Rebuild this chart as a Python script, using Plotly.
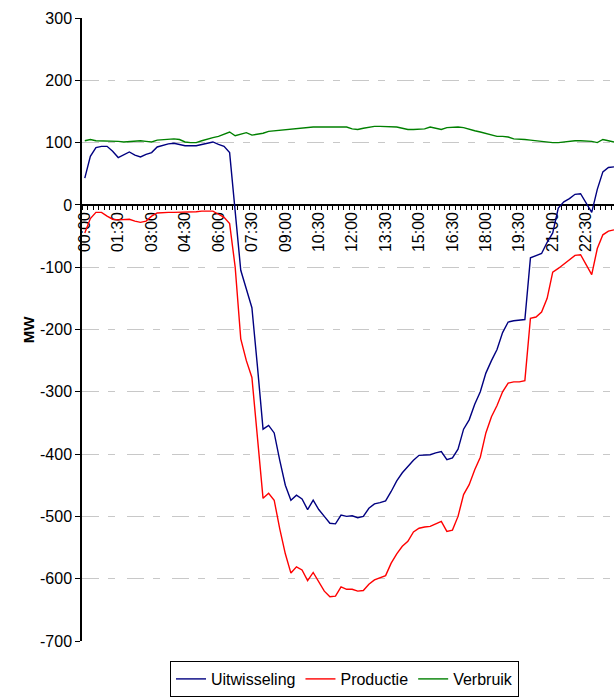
import plotly.graph_objects as go

# quarter-hour categories 00:00 .. 23:45
times = [f"{h:02d}:{m:02d}" for h in range(24) for m in (0, 15, 30, 45)]

uitwisseling = [
    43, 78, 92, 94, 94, 86, 76, 80, 85, 80, 77, 81, 84, 93, 96, 98,
    99, 97, 95, 95, 95, 97, 99, 101, 97, 94, 84, -5, -105, -135, -165, -260,
    -360, -354, -366, -410, -450, -474, -466, -472, -489, -474, -489, -500, -511, -512, -498, -500,
    -499, -502, -500, -487, -480, -478, -475, -460, -443, -430, -420, -410, -402, -401, -401, -398,
    -396, -409, -406, -392, -360, -345, -320, -300, -270, -250, -232, -205, -188, -186, -185, -184,
    -85, -82, -78, -60, -45, -5, 5, 10, 17, 18, 3, -12, 25, 53, 60, 61,
]
productie = [
    -45, -22, -12, -12, -18, -23, -24, -23, -23, -26, -28, -26, -18, -13, -12, -12,
    -12, -12, -12, -11, -11, -10, -10, -10, -15, -20, -30, -100, -215, -250, -277, -380,
    -471, -463, -474, -520, -560, -591, -581, -586, -603, -590, -606, -620, -629, -628, -613, -617,
    -617, -620, -619, -609, -602, -598, -595, -575, -560, -548, -540, -525, -519, -517, -516, -512,
    -508, -524, -522, -500, -465, -449, -425, -405, -366, -340, -322, -300, -286, -284, -284, -282,
    -182, -180, -172, -150, -108, -102, -95, -88, -81, -80, -95, -112, -70, -48, -42, -40,
]
verbruik = [
    103, 105, 103, 103, 103, 103, 102, 101, 102, 103, 103, 102, 101, 104, 105, 105,
    106, 105, 101, 100, 100, 103, 106, 108, 110, 113, 117, 111, 114, 116, 112, 113,
    115, 118, 119, 120, 121, 122, 122, 124, 125, 125, 125, 125, 125, 125, 125, 125,
    122, 121, 123, 125, 126, 126, 126, 126, 125, 123, 121, 121, 121, 122, 125, 123,
    121, 124, 125, 125, 124, 121, 119, 117, 115, 112, 110, 110, 109, 106, 106, 105,
    104, 103, 101, 100, 100, 100, 101, 103, 103, 103, 103, 102, 100, 105, 103, 101,
]

series = [
    ("Uitwisseling", uitwisseling, "#000080"),
    ("Productie", productie, "#FF0000"),
    ("Verbruik", verbruik, "#008000"),
]

y_ticks = [300, 200, 100, 0, -100, -200, -300, -400, -500, -600, -700]
x_idx = list(range(len(times)))

FONT = "Liberation Sans, Arial, sans-serif"

fig = go.Figure()
for name, vals, color in series:
    fig.add_trace(go.Scatter(
        x=x_idx, y=vals, name=name, mode="lines",
        line=dict(color=color, width=1.4),
        hovertemplate="%{text}: %{y} MW<extra>" + name + "</extra>",
        text=times,
    ))

fig.update_layout(
    width=614, height=698,
    margin=dict(l=82, r=0, t=18, b=57),
    paper_bgcolor="white", plot_bgcolor="white",
    font=dict(family=FONT, size=16, color="black"),
    showlegend=True,
    # legend kept inside the bottom margin so it does not shrink the plot
    legend=dict(
        orientation="h", x=88 / 532, xanchor="left", y=-56 / 623, yanchor="bottom",
        bordercolor="black", borderwidth=1, bgcolor="white",
        font=dict(size=16), itemwidth=30,
    ),
    annotations=[dict(
        text="<b>MW</b>", xref="paper", yref="paper", x=-0.12, y=0.5,
        textangle=-90, showarrow=False, font=dict(size=15),
    )],
)

# x axis sits on the zero line (0 is at 70% of the -700..300 range)
fig.update_xaxes(
    range=[-0.5, 95.0], anchor="free", position=0.7,
    showline=True, linecolor="black", linewidth=1.5,
    showgrid=False, zeroline=False,
    tickmode="array", tickvals=x_idx[::6], ticktext=times[::6],
    ticks="", tickangle=-90, tickfont=dict(size=16),
    minor=dict(tickmode="linear", tick0=0.5, dtick=1, ticks="outside",
               ticklen=4, tickcolor="black", tickwidth=1),
    layer="below traces",
)
fig.update_yaxes(
    range=[-700, 300],
    tickmode="array", tickvals=y_ticks, ticktext=[str(v) for v in y_ticks],
    showline=True, linecolor="black", linewidth=1.5,
    ticks="outside", ticklen=5, tickcolor="black",
    showgrid=True, gridcolor="#c8c8c8", gridwidth=1.2, griddash="17px,9px,7px,12px",
    zeroline=False, tickfont=dict(size=16),
)

# drop the default page margin so the figure fills the window exactly
fig.write_html(
    "out.html",
    config={"displayModeBar": False},
    post_script="document.body.style.margin='0';document.body.style.overflow='hidden';",
)
